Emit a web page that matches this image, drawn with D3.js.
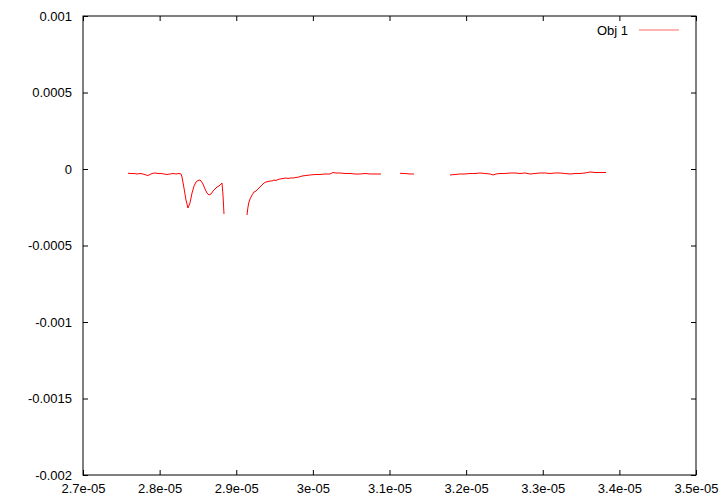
<!DOCTYPE html>
<html>
<head>
<meta charset="utf-8">
<script src="https://cdn.jsdelivr.net/npm/d3@7"></script>
<style>
  body { margin: 0; background: #fff; }
  text { font-family: "Liberation Sans", Arial, sans-serif; }
</style>
</head>
<body>
<div id="chart"></div>
<script>
// ----- data -----
var xTicks = [2.7e-5, 2.8e-5, 2.9e-5, 3.0e-5, 3.1e-5, 3.2e-5, 3.3e-5, 3.4e-5, 3.5e-5];
var xTickLabels = ["2.7e-05", "2.8e-05", "2.9e-05", "3e-05", "3.1e-05", "3.2e-05", "3.3e-05", "3.4e-05", "3.5e-05"];
var yTicks = [0.001, 0.0005, 0, -0.0005, -0.001, -0.0015, -0.002];
var yTickLabels = ["0.001", "0.0005", "0", "-0.0005", "-0.001", "-0.0015", "-0.002"];
var seriesName = "Obj 1";

// trace is broken into four pieces (gaps in the data)
var seg1 = [
  [2.7587e-5, -2.81e-5], [2.7626e-5, -2.94e-5], [2.7666e-5, -2.94e-5], [2.7705e-5, -3.27e-5],
  [2.7744e-5, -2.94e-5], [2.7783e-5, -3.27e-5], [2.7822e-5, -3.92e-5], [2.7848e-5, -4.25e-5],
  [2.7874e-5, -3.59e-5], [2.7901e-5, -2.94e-5], [2.7940e-5, -2.61e-5], [2.7979e-5, -2.94e-5],
  [2.8018e-5, -2.94e-5], [2.8057e-5, -3.27e-5], [2.8096e-5, -3.59e-5], [2.8135e-5, -3.27e-5],
  [2.8175e-5, -2.94e-5], [2.8214e-5, -3.27e-5], [2.8253e-5, -2.94e-5], [2.8279e-5, -3.27e-5],
  [2.8292e-5, -5.23e-5], [2.8318e-5, -12.42e-5], [2.8344e-5, -20.26e-5], [2.8370e-5, -25.49e-5],
  [2.8396e-5, -22.22e-5], [2.8423e-5, -15.69e-5], [2.8449e-5, -11.11e-5], [2.8475e-5, -8.50e-5],
  [2.8501e-5, -7.52e-5], [2.8527e-5, -7.19e-5], [2.8540e-5, -7.84e-5], [2.8566e-5, -9.80e-5],
  [2.8592e-5, -13.07e-5], [2.8618e-5, -15.69e-5], [2.8644e-5, -16.99e-5], [2.8671e-5, -16.34e-5],
  [2.8697e-5, -14.38e-5], [2.8723e-5, -13.07e-5], [2.8749e-5, -11.76e-5], [2.8775e-5, -11.11e-5],
  [2.8801e-5, -9.80e-5], [2.8814e-5, -9.15e-5], [2.8827e-5, -16.99e-5], [2.8840e-5, -29.41e-5]
];
var seg2 = [
  [2.9140e-5, -30.07e-5], [2.9153e-5, -24.84e-5], [2.9166e-5, -21.57e-5], [2.9180e-5, -19.61e-5],
  [2.9206e-5, -16.99e-5], [2.9232e-5, -15.03e-5], [2.9258e-5, -14.38e-5], [2.9284e-5, -13.07e-5],
  [2.9310e-5, -11.76e-5], [2.9336e-5, -10.46e-5], [2.9362e-5, -9.15e-5], [2.9388e-5, -8.50e-5],
  [2.9414e-5, -8.17e-5], [2.9441e-5, -7.84e-5], [2.9467e-5, -7.84e-5], [2.9493e-5, -7.19e-5],
  [2.9519e-5, -7.52e-5], [2.9545e-5, -6.86e-5], [2.9571e-5, -6.54e-5], [2.9610e-5, -6.21e-5],
  [2.9649e-5, -5.88e-5], [2.9675e-5, -6.21e-5], [2.9702e-5, -5.88e-5], [2.9741e-5, -5.88e-5],
  [2.9780e-5, -5.56e-5], [2.9819e-5, -5.23e-5], [2.9858e-5, -4.58e-5], [2.9910e-5, -4.25e-5],
  [2.9963e-5, -3.92e-5], [3.0028e-5, -3.59e-5], [3.0093e-5, -3.59e-5], [3.0158e-5, -3.27e-5],
  [3.0224e-5, -3.27e-5], [3.0263e-5, -2.29e-5], [3.0302e-5, -2.61e-5], [3.0354e-5, -2.61e-5],
  [3.0419e-5, -2.94e-5], [3.0485e-5, -2.94e-5], [3.0550e-5, -3.27e-5], [3.0615e-5, -3.27e-5],
  [3.0680e-5, -2.94e-5], [3.0746e-5, -3.27e-5], [3.0811e-5, -3.27e-5], [3.0889e-5, -3.27e-5]
];
var seg3 = [
  [3.1137e-5, -2.81e-5], [3.1202e-5, -2.94e-5], [3.1268e-5, -3.27e-5], [3.1320e-5, -3.27e-5]
];
var seg4 = [
  [3.1790e-5, -3.92e-5], [3.1855e-5, -3.59e-5], [3.1920e-5, -3.27e-5], [3.1985e-5, -3.27e-5],
  [3.2051e-5, -2.94e-5], [3.2116e-5, -2.94e-5], [3.2181e-5, -2.61e-5], [3.2247e-5, -2.94e-5],
  [3.2312e-5, -3.27e-5], [3.2351e-5, -3.92e-5], [3.2390e-5, -3.27e-5], [3.2442e-5, -2.94e-5],
  [3.2508e-5, -2.94e-5], [3.2573e-5, -2.61e-5], [3.2638e-5, -2.61e-5], [3.2703e-5, -2.94e-5],
  [3.2769e-5, -2.61e-5], [3.2834e-5, -3.27e-5], [3.2899e-5, -2.94e-5], [3.2964e-5, -2.61e-5],
  [3.3030e-5, -2.61e-5], [3.3095e-5, -2.94e-5], [3.3160e-5, -2.61e-5], [3.3225e-5, -2.61e-5],
  [3.3291e-5, -2.94e-5], [3.3356e-5, -3.27e-5], [3.3421e-5, -2.94e-5], [3.3486e-5, -2.94e-5],
  [3.3552e-5, -2.61e-5], [3.3617e-5, -1.96e-5], [3.3682e-5, -2.29e-5], [3.3747e-5, -2.29e-5],
  [3.3826e-5, -2.29e-5]
];
var segments = [seg1, seg2, seg3, seg4];

// ----- drawing area -----
var margin = {top: 16, right: 24, bottom: 29, left: 83};
var width = 720 - margin.left - margin.right,
    height = 504 - margin.top - margin.bottom;

var svg = d3.select("#chart")
    .append("svg")
    .attr("width", 720)
    .attr("height", 504);

var g = svg.append("g")
    .attr("transform", "translate(" + margin.left + "," + margin.top + ")");

var x = d3.scaleLinear().domain([2.7e-5, 3.5e-5]).range([0, width]);
var y = d3.scaleLinear().domain([-0.002, 0.001]).range([height, 0]);

// axes, ticks point inwards like gnuplot
var xAxis = d3.axisBottom(x)
    .tickValues(xTicks)
    .tickFormat(function(d, i){ return xTickLabels[i]; })
    .tickSizeInner(-5).tickSizeOuter(0).tickPadding(9);

var yAxis = d3.axisLeft(y)
    .tickValues(yTicks)
    .tickFormat(function(d, i){ return yTickLabels[i]; })
    .tickSizeInner(-5).tickSizeOuter(0).tickPadding(11);

var gx = g.append("g").attr("transform", "translate(0," + height + ")").call(xAxis);
var gy = g.append("g").call(yAxis);

// mirrored ticks on top and right
g.append("g").call(d3.axisTop(x).tickValues(xTicks).tickFormat("").tickSizeInner(-5).tickSizeOuter(0));
g.append("g").attr("transform", "translate(" + width + ",0)")
    .call(d3.axisRight(y).tickValues(yTicks).tickFormat("").tickSizeInner(-5).tickSizeOuter(0));

g.selectAll(".domain").remove();
g.selectAll(".tick line").attr("stroke", "#000");
g.selectAll(".tick text")
    .style("font-size", "13px")
    .attr("fill", "#000");

// frame
g.append("rect")
    .attr("x", 0).attr("y", 0)
    .attr("width", width).attr("height", height)
    .attr("fill", "none")
    .attr("stroke", "#000")
    .attr("stroke-width", 1);

// data line
var line = d3.line()
    .x(function(d){ return x(d[0]); })
    .y(function(d){ return y(d[1]); });

g.selectAll(".seg")
    .data(segments)
    .enter()
    .append("path")
    .attr("class", "seg")
    .attr("d", line)
    .attr("fill", "none")
    .attr("stroke", "#ff0000")
    .attr("stroke-width", 1);

// legend
g.append("text")
    .attr("x", 628 - margin.left)
    .attr("y", 35 - margin.top)
    .text(seriesName)
    .style("font-size", "13px")
    .attr("text-anchor", "end");

g.append("line")
    .attr("x1", 639 - margin.left).attr("x2", 679 - margin.left)
    .attr("y1", 30 - margin.top).attr("y2", 30 - margin.top)
    .attr("stroke", "#ff0000")
    .attr("stroke-opacity", 0.6)
    .attr("stroke-width", 1);
</script>
</body>
</html>
